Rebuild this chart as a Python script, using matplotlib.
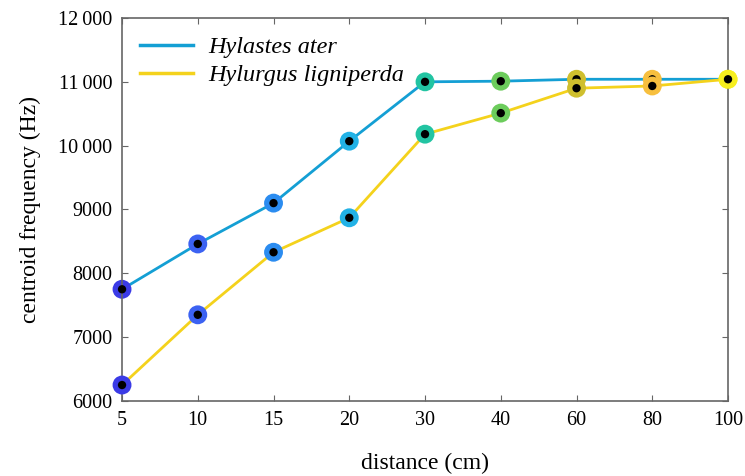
import matplotlib
matplotlib.use("Agg")
import matplotlib.pyplot as plt
from matplotlib.lines import Line2D

plt.rcParams['font.family'] = ['Liberation Serif', 'DejaVu Serif']

# data
distances = ['5', '10', '15', '20', '30', '40', '60', '80', '100']
hylastes = [7750, 8460, 9100, 10070, 11000, 11010, 11040, 11040, 11040]
hylurgus = [6250, 7350, 8330, 8870, 10180, 10510, 10900, 10935, 11040]
point_colors = ['#3b3be6', '#3c62f2', '#2b8cf0', '#22b2e6', '#22c4a2',
                '#6ccc5c', '#cfbf2e', '#f7bf3e', '#f7ef1e']
ytick_vals = [6000, 7000, 8000, 9000, 10000, 11000, 12000]
ytick_labels = ['6000', '7000', '8000', '9000',
                '10\u2009000', '11\u2009000', '12\u2009000']

fig = plt.figure(figsize=(7.45, 4.76), dpi=100)
ax = fig.add_axes([0.1638, 0.1576, 0.8134, 0.8046])

x = list(range(len(distances)))
blue = '#149fd4'
yellow = '#f4d21c'

for ys, lc, z in [(hylastes, blue, 2), (hylurgus, yellow, 4)]:
    ax.plot(x, ys, color=lc, lw=2, zorder=z, clip_on=False)
    ax.scatter(x, ys, s=185, c=point_colors, edgecolors='none',
               zorder=z + 0.5, clip_on=False)
    ax.scatter(x, ys, s=36, c='black', edgecolors='none',
               zorder=z + 0.6, clip_on=False)

ax.set_xlim(0, len(distances) - 1)
ax.set_ylim(6000, 12000)
ax.set_xticks(x)
ax.set_xticklabels(distances)
ax.set_yticks(ytick_vals)
ax.set_yticklabels(ytick_labels)

for s in ax.spines.values():
    s.set_color('#666666')
    s.set_linewidth(1.2)
ax.tick_params(direction='in', top=True, right=True, length=4,
               color='#666666', labelsize=14.5, pad=7)

ax.set_xlabel('distance (cm)', fontsize=17, labelpad=17)
ax.set_ylabel('centroid frequency (Hz)', fontsize=17, labelpad=12)

handles = [Line2D([], [], color=blue, lw=2.5),
           Line2D([], [], color=yellow, lw=2.5)]
ax.legend(handles, ['Hylastes ater', 'Hylurgus ligniperda'],
          loc='upper left', frameon=False, handlelength=2.15,
          handletextpad=0.65,
          prop={'style': 'italic', 'size': 17.5},
          bbox_to_anchor=(0.0, 1.0), borderaxespad=0.35, labelspacing=0.25)

plt.savefig('out.png', dpi=100)
plt.close()
